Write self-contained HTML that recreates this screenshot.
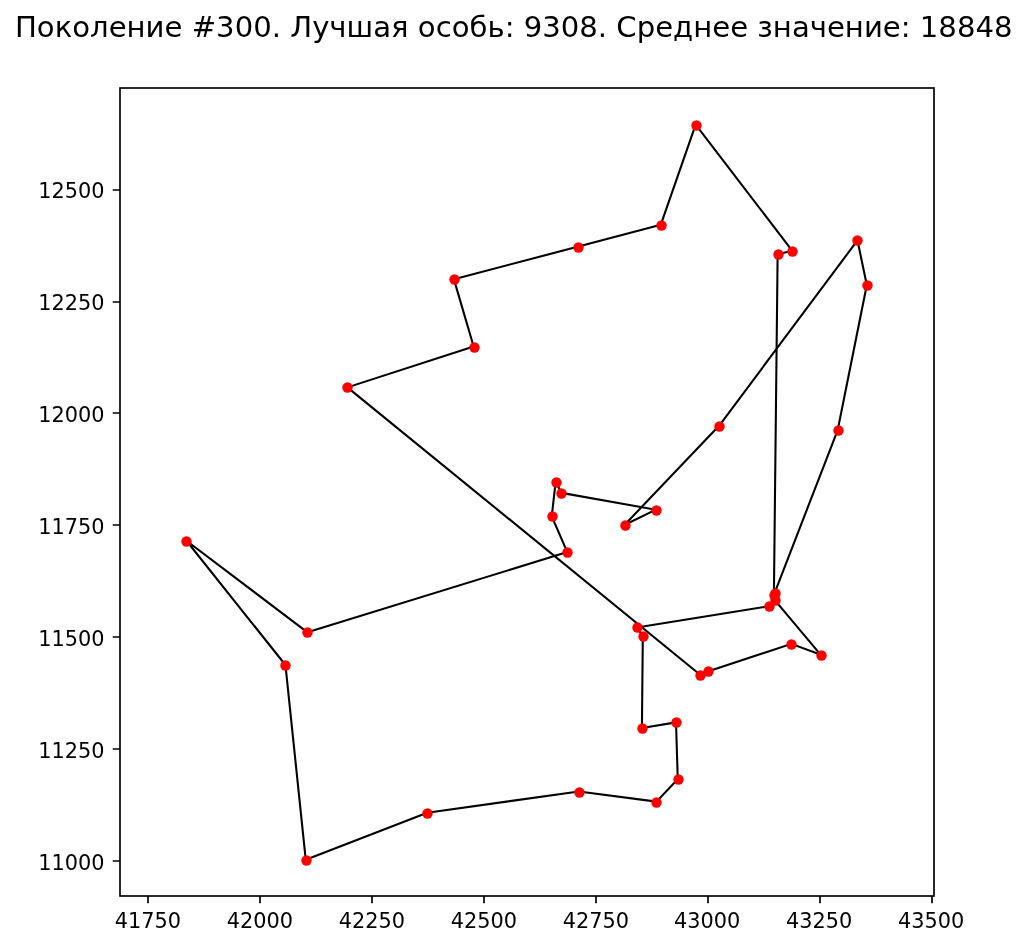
<!DOCTYPE html>
<html lang="ru"><head><meta charset="utf-8"><title>Поколение #300</title>
<style>html,body{margin:0;padding:0;background:#fff}body{width:1027px;height:946px;overflow:hidden}</style></head>
<body>
<svg width="1027" height="946" viewBox="0 0 1027 946" style="display:block">
<rect width="1027" height="946" fill="#fff"/>
<polyline points="695.66,124.67 660.84,224.68 578.37,246.57 453.87,279.16 473.64,346.58 347.40,387.38 700.14,674.72 707.73,671.48 791.43,643.87 820.79,654.82 774.77,600.09 768.80,606.30 636.83,627.45 642.80,636.03 641.93,728.08 676.01,722.36 677.75,779.21 656.48,801.60 578.87,791.52 427.25,812.67 305.73,859.69 285.45,665.02 186.45,540.75 307.47,632.30 567.30,552.07 551.75,516.37 555.61,482.04 561.46,492.86 655.86,509.65 624.52,524.95 719.29,425.57 857.48,240.35 866.81,285.01 837.70,430.04 774.77,592.62 773.90,594.86 777.63,254.16 792.31,250.80 695.66,124.67" fill="none" stroke="#000" stroke-width="2.08" stroke-linejoin="round" stroke-linecap="butt"/>
<g fill="#f00"><circle cx="696.5" cy="125.5" r="5.2"/><circle cx="661.5" cy="225.5" r="5.2"/><circle cx="578.5" cy="247.5" r="5.2"/><circle cx="454.5" cy="279.5" r="5.2"/><circle cx="474.5" cy="347.5" r="5.2"/><circle cx="347.5" cy="387.5" r="5.2"/><circle cx="700.5" cy="675.5" r="5.2"/><circle cx="708.5" cy="671.5" r="5.2"/><circle cx="791.5" cy="644.5" r="5.2"/><circle cx="821.5" cy="655.5" r="5.2"/><circle cx="775.5" cy="600.5" r="5.2"/><circle cx="769.5" cy="606.5" r="5.2"/><circle cx="637.5" cy="627.5" r="5.2"/><circle cx="643.5" cy="636.5" r="5.2"/><circle cx="642.5" cy="728.5" r="5.2"/><circle cx="676.5" cy="722.5" r="5.2"/><circle cx="678.5" cy="779.5" r="5.2"/><circle cx="656.5" cy="802.5" r="5.2"/><circle cx="579.5" cy="792.5" r="5.2"/><circle cx="427.5" cy="813.5" r="5.2"/><circle cx="306.5" cy="860.5" r="5.2"/><circle cx="285.5" cy="665.5" r="5.2"/><circle cx="186.5" cy="541.5" r="5.2"/><circle cx="307.5" cy="632.5" r="5.2"/><circle cx="567.5" cy="552.5" r="5.2"/><circle cx="552.5" cy="516.5" r="5.2"/><circle cx="556.5" cy="482.5" r="5.2"/><circle cx="561.5" cy="493.5" r="5.2"/><circle cx="656.5" cy="510.5" r="5.2"/><circle cx="625.5" cy="525.5" r="5.2"/><circle cx="719.5" cy="426.5" r="5.2"/><circle cx="857.5" cy="240.5" r="5.2"/><circle cx="867.5" cy="285.5" r="5.2"/><circle cx="838.5" cy="430.5" r="5.2"/><circle cx="775.5" cy="593.5" r="5.2"/><circle cx="774.5" cy="595.5" r="5.2"/><circle cx="778.5" cy="254.5" r="5.2"/><circle cx="792.5" cy="251.5" r="5.2"/></g>
<path d="M148 896v7.29M260 896v7.29M372 896v7.29M484 896v7.29M596 896v7.29M708 896v7.29M820 896v7.29M932 896v7.29M120 861h-7.29M120 749h-7.29M120 637h-7.29M120 525h-7.29M120 413h-7.29M120 302h-7.29M120 190h-7.29" stroke="#000" stroke-width="1.667" fill="none"/>
<rect x="120" y="88" width="814" height="808" fill="none" stroke="#000" stroke-width="1.667" stroke-linejoin="miter"/>
<g font-family="'DejaVu Sans', 'Liberation Sans', sans-serif" font-size="20.83" fill="#000">
<g text-anchor="middle">
<text x="148" y="927.8">41750</text>
<text x="260" y="927.8">42000</text>
<text x="372" y="927.8">42250</text>
<text x="484" y="927.8">42500</text>
<text x="596" y="927.8">42750</text>
<text x="707.1" y="927.8">43000</text>
<text x="819.1" y="927.8">43250</text>
<text x="931.1" y="927.8">43500</text>
</g><g text-anchor="end">
<text x="104.6" y="869.8">11000</text>
<text x="104.6" y="757.8">11250</text>
<text x="104.6" y="645.8">11500</text>
<text x="104.6" y="533.8">11750</text>
<text x="104.6" y="421.8">12000</text>
<text x="104.6" y="309.8">12250</text>
<text x="104.6" y="197.8">12500</text>
</g></g>
<text x="513.7" y="37.1" text-anchor="middle" font-family="'DejaVu Sans', 'Liberation Sans', sans-serif" font-size="29.135" fill="#000">Поколение #300. Лучшая особь: 9308. Среднее значение: 18848</text>
</svg>
</body></html>
